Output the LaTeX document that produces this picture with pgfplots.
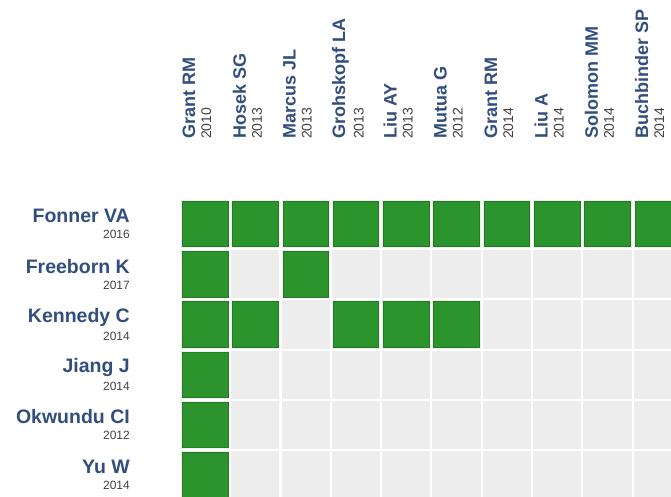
\documentclass[border=0pt]{standalone}
\usepackage{pgfplots}
\pgfplotsset{compat=1.18}
\usepackage{fontspec}
\setmainfont{Liberation Sans}
\definecolor{lblue}{RGB}{50,78,125}
\definecolor{ygray}{RGB}{65,65,65}
\definecolor{cellgray}{RGB}{237,237,237}
\definecolor{cellgreen}{RGB}{44,148,44}
\definecolor{celledge}{RGB}{36,122,36}
\newcommand{\cl}[2]{{\fontsize{18}{18}\selectfont\bfseries\color{lblue}#1}\\[4pt]{\fontsize{14}{14}\selectfont\color{ygray}#2}}
\newcommand{\rl}[2]{{\fontsize{19.5}{19.5}\selectfont\bfseries\color{lblue}#1}\\[4pt]{\fontsize{12}{12}\selectfont\color{ygray}#2}}
\begin{document}
\begin{tikzpicture}[x=1pt,y=1pt]
\useasboundingbox (0,0) rectangle (671,497);
\clip (0,0) rectangle (671,497);
\begin{axis}[
  at={(179.85pt,0pt)}, anchor=south west,
  scale only axis, width=491.15pt, height=298.45pt,
  xmin=-0.5, xmax=9.265, ymin=-5.433, ymax=0.5,
  clip=false,
  axis line style={draw=none}, tick style={draw=none},
  xtick={0,...,9}, ytick={-5,...,0},
  xticklabel pos=upper,
  xticklabels={{\cl{Grant RM}{2010}},{\cl{Hosek SG}{2013}},{\cl{Marcus JL}{2013}},{\cl{Grohskopf LA}{2013}},{\cl{Liu AY}{2013}},{\cl{Mutua G}{2012}},{\cl{Grant RM}{2014}},{\cl{Liu A}{2014}},{\cl{Solomon MM}{2014}},{\cl{Buchbinder SP}{2014}}},
  yticklabels={{\rl{Yu W}{2014}},{\rl{Okwundu CI}{2012}},{\rl{Jiang J}{2014}},{\rl{Kennedy C}{2014}},{\rl{Freeborn K}{2017}},{\rl{Fonner VA}{2016}}},
  xticklabel style={xshift=-8pt, rotate=90, anchor=west, align=left, inner sep=0pt},
  xticklabel shift=59.5pt,
  yticklabel style={anchor=east, align=right, inner sep=0pt},
  yticklabel shift=49.85pt,
]
\addplot[only marks, mark=square*, mark size=23.6pt, color=cellgray, line width=0.8pt, mark options={solid, fill=cellgray}] coordinates {
(0,0)(1,0)(2,0)(3,0)(4,0)(5,0)(6,0)(7,0)(8,0)(9,0)
(0,-1)(1,-1)(2,-1)(3,-1)(4,-1)(5,-1)(6,-1)(7,-1)(8,-1)(9,-1)
(0,-2)(1,-2)(2,-2)(3,-2)(4,-2)(5,-2)(6,-2)(7,-2)(8,-2)(9,-2)
(0,-3)(1,-3)(2,-3)(3,-3)(4,-3)(5,-3)(6,-3)(7,-3)(8,-3)(9,-3)
(0,-4)(1,-4)(2,-4)(3,-4)(4,-4)(5,-4)(6,-4)(7,-4)(8,-4)(9,-4)
(0,-5)(1,-5)(2,-5)(3,-5)(4,-5)(5,-5)(6,-5)(7,-5)(8,-5)(9,-5)
};
\addplot[only marks, mark=square*, mark size=22.8pt, color=celledge, line width=0.5pt, mark options={solid, fill=cellgreen}] coordinates {
(0,0)(1,0)(2,0)(3,0)(4,0)(5,0)(6,0)(7,0)(8,0)(9,0)
(0,-1)(2,-1)
(0,-2)(1,-2)(3,-2)(4,-2)(5,-2)
(0,-3)(0,-4)(0,-5)
};
\end{axis}
\end{tikzpicture}
\end{document}
